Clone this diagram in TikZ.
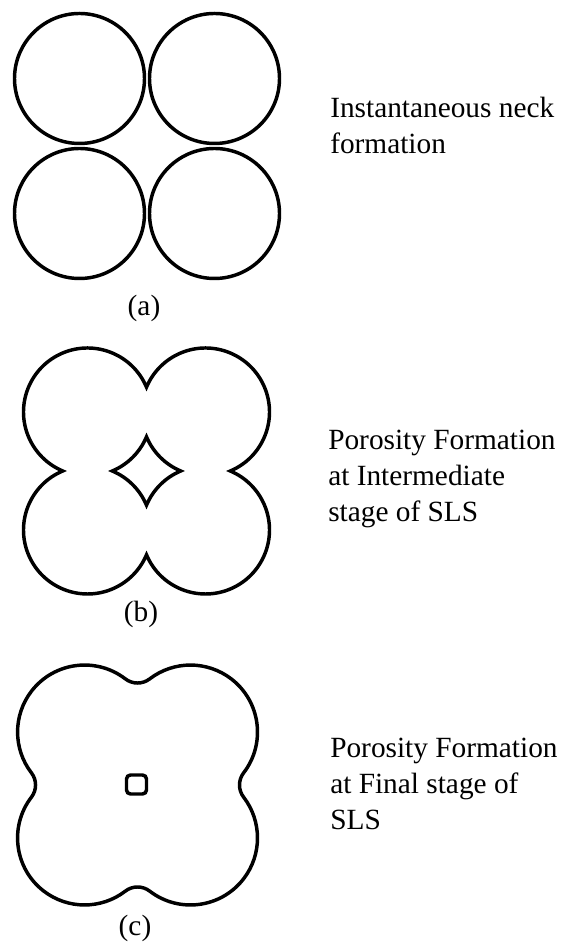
\documentclass[tikz,border=0pt]{standalone}
\usepackage{fontspec}
\setmainfont{Liberation Serif}
\usepackage{tikz}

\tikzset{
	grain/.style={line width=2.6pt},
	caption/.style={font=\fontsize{22}{27}\selectfont, inner sep=0pt},
	remark/.style={font=\fontsize{22}{27}\selectfont, inner sep=0pt, align=left, anchor=north west}
}

\begin{document}
\begin{tikzpicture}[x=0.75pt,y=0.75pt]

	\useasboundingbox (0,0) rectangle (566,952);

	\coordinate (ca) at (147,806);
	\coordinate (cb) at (146.5,481);
	\coordinate (cc) at (137.5,167);

	% four particles just touching
	\foreach \dx/\dy in {-1/1,1/1,-1/-1,1/-1}
		\draw[grain] ([shift={(67.5*\dx,67.5*\dy)}]ca) circle[radius=65];

	% grown necks, pore trapped in the middle
	\begin{scope}[shift={(cb)}]
		\draw[grain] (0,83.8) \foreach \k in {0,90,180,270} {arc[start angle=22.8+\k, end angle=247.2+\k, radius=64]} -- cycle;
		\draw[grain] (0,34.2) \foreach \k in {0,90,180,270} {arc[start angle=-22.8+\k, end angle=-67.2+\k, radius=64]} -- cycle;
	\end{scope}

	% smoothed necks, small pore left
	\begin{scope}[shift={(cc)}]
		\draw[grain] (12.2,106.1) \foreach \k in {0,90,180,270} {arc[start angle=307.5+\k, end angle=232.5+\k, radius=20] arc[start angle=52.5+\k, end angle=217.5+\k, radius=67]} -- cycle;
		\draw[grain, rounded corners=3pt] (-11,-9) rectangle (9,10);
	\end{scope}

	\node[caption] (lbla) at (144,644) {(a)};
	\node[caption] (lblb) at (141,338) {(b)};
	\node[caption] (lblc) at (135,24) {(c)};

	\node[remark] (txta) at (330,855) {Instantaneous neck\\formation};
	\node[remark] (txtb) at (328,522) {Porosity Formation\\at Intermediate\\stage of SLS};
	\node[remark] (txtc) at (330,214) {Porosity Formation\\at Final stage of\\SLS};

\end{tikzpicture}
\end{document}
